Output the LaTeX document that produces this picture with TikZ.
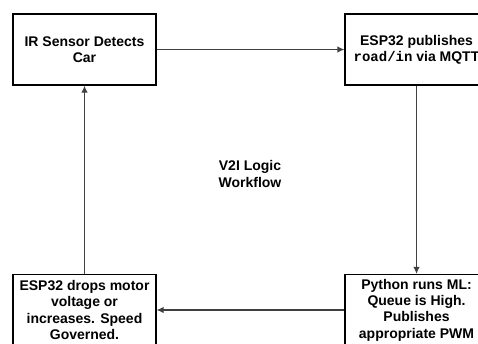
\documentclass[tikz,border=0pt]{standalone}
\usepackage{fontspec}
\setmainfont{Liberation Sans}
\setmonofont{Liberation Mono}
\usetikzlibrary{arrows.meta}

\begin{document}
\begin{tikzpicture}[x=1pt,y=-1pt,
  stage/.style={draw=black,line width=1.2pt,fill=white,minimum width=143pt,minimum height=71pt,align=center,inner sep=2pt,font=\fontsize{14}{16.3}\selectfont\bfseries},
  arrow/.style={-{Latex[length=7pt,width=6.5pt]},draw=black!75,line width=1.2pt}]
  \useasboundingbox (0,0) rectangle (478,343);
  \clip (0,0) rectangle (478,343);

  \node[stage] (sensor) at (84.5,49.5) {IR Sensor Detects\\Car};
  \node[stage] (publish) at (416.5,49.5) {ESP32 publishes\\\texttt{road/in} via MQTT};
  \node[stage] (python) at (416.5,310) {Python runs ML:\\Queue is High.\\Publishes\\appropriate PWM};
  \node[stage] (motor) at (84.5,310) {ESP32 drops motor\\voltage or\\increases. Speed\\Governed.};
  \node[align=center,font=\fontsize{14}{17.5}\selectfont\bfseries] (title) at (250,174) {V2I Logic\\Workflow};

  \draw[arrow] (sensor) -- (publish);
  \draw[arrow] (publish) -- (python);
  \draw[arrow] (python) -- (motor);
  \draw[arrow] (motor) -- (sensor);
\end{tikzpicture}
\end{document}
